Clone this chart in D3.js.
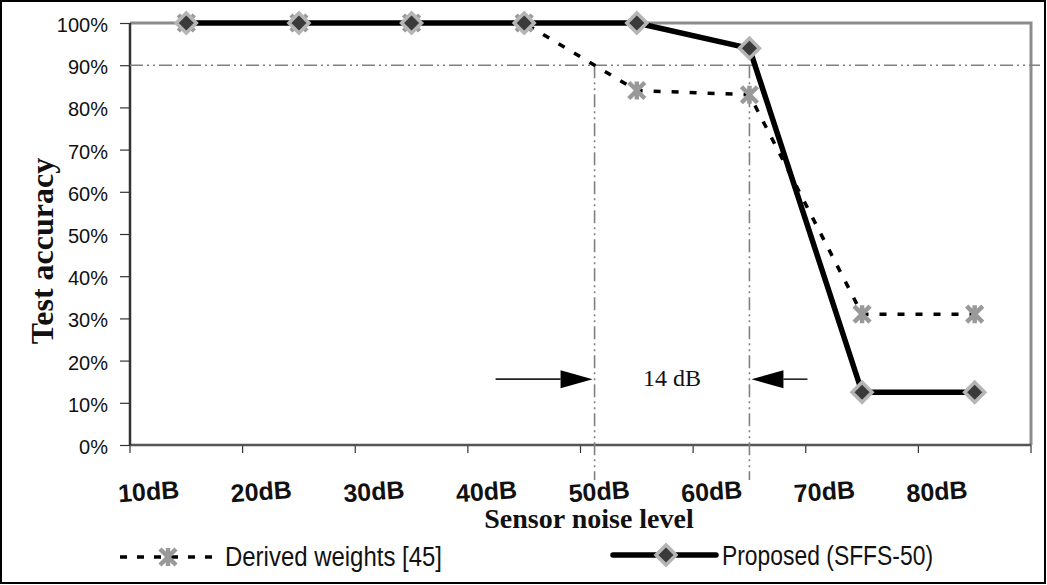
<!DOCTYPE html>
<html>
<head>
<meta charset="utf-8">
<script src="https://cdn.jsdelivr.net/npm/d3@7"></script>
<style>
  html, body { margin: 0; padding: 0; background: #fff; }
  svg { display: block; }
</style>
</head>
<body>
<svg id="chart" width="1047" height="585"></svg>
<script>
// ---- data ----
const categories = ["10dB", "20dB", "30dB", "40dB", "50dB", "60dB", "70dB", "80dB"];
const derivedWeights = [100, 100, 100, 100, 84, 83, 31, 31];
const proposed = [100, 100, 100, 100, 100, 94, 12.5, 12.5];
const yTicks = [0, 10, 20, 30, 40, 50, 60, 70, 80, 90, 100];
const threshold = 90;
const seriesNames = ["Derived weights [45]", "Proposed (SFFS-50)"];
const annotationText = "14 dB";
const axisTitles = { x: "Sensor noise level", y: "Test accuracy" };

(function () {
// ---- layout ----
const W = 1047, H = 585;
const pL = 130, pR = 1031, pT = 23, pB = 445;
const sans = "'Liberation Sans', Arial, sans-serif";
const serif = "'Liberation Serif', 'Times New Roman', serif";

const svg = d3.select("#chart");

const x = d3.scaleBand().domain(categories).range([pL, pR]).padding(0);
const y = d3.scaleLinear().domain([0, 100]).range([pB, pT]);
const cx = i => x(categories[i]) + x.bandwidth() / 2;

// outer frame
svg.append("rect").attr("x", 1).attr("y", 1).attr("width", W - 3).attr("height", H - 3)
  .attr("fill", "none").attr("stroke", "#000").attr("stroke-width", 2);

// top & right plot border (gray)
svg.append("path")
  .attr("d", `M${pL},${y(100)}H${pR}V${pB}`)
  .attr("fill", "none").attr("stroke", "#8c8c8c").attr("stroke-width", 3);

// y axis
const yAxis = d3.axisLeft(y).tickValues(yTicks).tickFormat(d => d + "%").tickSize(10).tickPadding(12);
const gy = svg.append("g").attr("transform", `translate(${pL},0)`).call(yAxis);
gy.select(".domain").remove();
gy.selectAll(".tick line").attr("stroke", "#333").attr("stroke-width", 1.2);
gy.selectAll(".tick text").attr("font-family", sans).attr("font-size", 20).attr("fill", "#111").attr("dy", "0.42em");

// x axis ticks at band boundaries
const bounds = categories.map(c => x(c)).concat([pR]);
svg.append("g").selectAll("line").data(bounds).join("line")
  .attr("x1", d => d).attr("x2", d => d).attr("y1", pB).attr("y2", pB + 8)
  .attr("stroke", "#333").attr("stroke-width", 1.2);

// axis lines
svg.append("line").attr("x1", pL).attr("x2", pR).attr("y1", pB).attr("y2", pB)
  .attr("stroke", "#555").attr("stroke-width", 2.5);
svg.append("line").attr("x1", pL).attr("x2", pL).attr("y1", pT).attr("y2", pB)
  .attr("stroke", "#333").attr("stroke-width", 2.5);

// x labels (slightly tilted)
svg.append("g").selectAll("text").data(categories).join("text")
  .attr("transform", d => `translate(${x(d) + x.bandwidth() * 0.17},${500}) rotate(-4)`)
  .attr("text-anchor", "middle")
  .attr("font-family", sans).attr("font-weight", "bold").attr("font-size", 25).attr("fill", "#111")
  .text(d => d);

// axis titles
svg.append("text").attr("x", 589).attr("y", 528).attr("text-anchor", "middle")
  .attr("font-family", serif).attr("font-weight", "bold").attr("font-size", 28).attr("fill", "#111")
  .text(axisTitles.x);
svg.append("text").attr("transform", `translate(53,251) rotate(-90)`).attr("text-anchor", "middle")
  .attr("font-family", serif).attr("font-weight", "bold").attr("font-size", 32).attr("fill", "#111")
  .text(axisTitles.y);

// reference lines
const dashDot = "13,4,2,4,2,4";
svg.append("line").attr("x1", pL).attr("x2", 1040).attr("y1", y(threshold)).attr("y2", y(threshold))
  .attr("stroke", "#808080").attr("stroke-width", 1.6).attr("stroke-dasharray", dashDot);

// where derived crosses threshold
let crossX = null;
for (let i = 0; i < derivedWeights.length - 1; i++) {
  const a = derivedWeights[i], b = derivedWeights[i + 1];
  if (a >= threshold && b < threshold) {
    const t = (a - threshold) / (a - b);
    crossX = cx(i) + t * (cx(i + 1) - cx(i));
    break;
  }
}
// proposed last point above threshold
let propIdx = 0;
proposed.forEach((v, i) => { if (v >= threshold) propIdx = i; });
const propX = cx(propIdx);

[crossX, propX].forEach(xx => {
  svg.append("line").attr("x1", xx).attr("x2", xx).attr("y1", y(threshold)).attr("y2", 480)
    .attr("stroke", "#808080").attr("stroke-width", 1.6).attr("stroke-dasharray", dashDot);
});

// arrows
const ay = y(15.6);
function arrow(tipX, dir, tailLen) {
  const headLen = 32, half = 9;
  svg.append("line").attr("x1", tipX - dir * tailLen).attr("x2", tipX - dir * headLen).attr("y1", ay).attr("y2", ay)
    .attr("stroke", "#222").attr("stroke-width", 1.6);
  svg.append("path")
    .attr("d", `M${tipX},${ay}L${tipX - dir * headLen},${ay - half}L${tipX - dir * headLen},${ay + half}Z`)
    .attr("fill", "#000");
}
arrow(crossX - 2, 1, 97);
arrow(propX + 2, -1, 56);
svg.append("text").attr("x", (crossX + propX) / 2).attr("y", ay + 7).attr("text-anchor", "middle")
  .attr("font-family", serif).attr("font-size", 24).attr("fill", "#111").text(annotationText);

// series lines
const lineGen = d3.line().x((d, i) => cx(i)).y(d => y(d));
svg.append("path").datum(derivedWeights).attr("d", lineGen)
  .attr("fill", "none").attr("stroke", "#000").attr("stroke-width", 3.5).attr("stroke-dasharray", "7,11");

function asterisk(g, px, py) {
  const r = 8;
  g.append("path")
    .attr("d", `M${px - r},${py - r}L${px + r},${py + r}M${px - r},${py + r}L${px + r},${py - r}M${px},${py - r - 1}L${px},${py + r + 1}`)
    .attr("stroke", "#999").attr("stroke-width", 4.5).attr("fill", "none");
}
const dm = svg.append("g");
derivedWeights.forEach((v, i) => asterisk(dm, cx(i), y(v)));

svg.append("path").datum(proposed).attr("d", lineGen)
  .attr("fill", "none").attr("stroke", "#000").attr("stroke-width", 5.5).attr("stroke-linejoin", "round");

function diamond(g, px, py) {
  const r = 10;
  g.append("path").attr("d", `M${px},${py - r}L${px + r},${py}L${px},${py + r}L${px - r},${py}Z`)
    .attr("fill", "#3a3a3a").attr("stroke", "#b5b5b5").attr("stroke-width", 3.5).attr("stroke-linejoin", "miter");
}
const pm = svg.append("g");
proposed.forEach((v, i) => diamond(pm, cx(i), y(v)));

// legend
const ly = 557;
svg.append("line").attr("x1", 120).attr("x2", 218).attr("y1", ly).attr("y2", ly)
  .attr("stroke", "#000").attr("stroke-width", 3.5).attr("stroke-dasharray", "7,10");
asterisk(svg, 168, ly);
svg.append("text").attr("x", 225).attr("y", 566).attr("font-family", sans).attr("font-size", 27)
  .attr("textLength", 217).attr("lengthAdjust", "spacingAndGlyphs").attr("fill", "#111").text(seriesNames[0]);

svg.append("line").attr("x1", 613).attr("x2", 716).attr("y1", ly - 2).attr("y2", ly - 2)
  .attr("stroke", "#000").attr("stroke-width", 5.5).attr("stroke-linecap", "round");
diamond(svg, 666, ly - 2);
svg.append("text").attr("x", 722).attr("y", 565).attr("font-family", sans).attr("font-size", 27)
  .attr("textLength", 211).attr("lengthAdjust", "spacingAndGlyphs").attr("fill", "#111").text(seriesNames[1]);
})();
</script>
</body>
</html>
